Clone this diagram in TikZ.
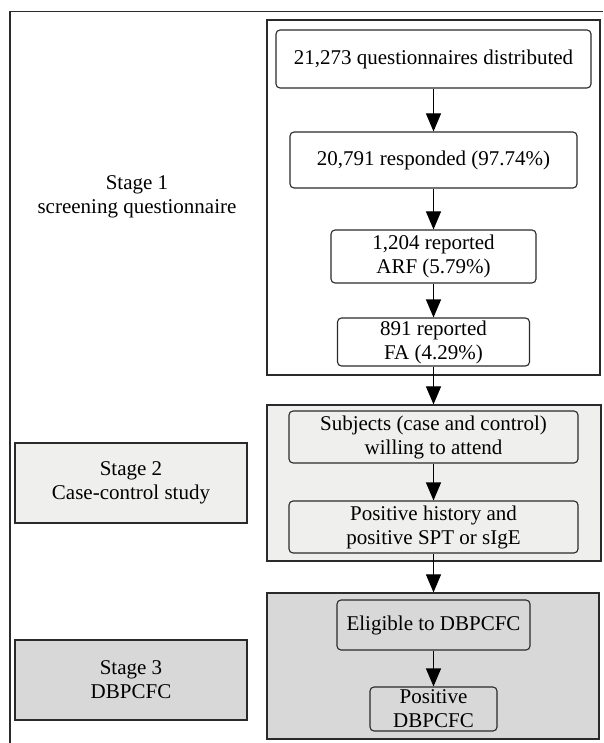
\documentclass[tikz,border=0pt]{standalone}
\usepackage{fontspec}
\setmainfont{Liberation Serif}
\usetikzlibrary{arrows.meta}
\definecolor{lightfill}{HTML}{EFF0EE}
\definecolor{midfill}{HTML}{D8D8D8}
\definecolor{edge}{HTML}{2A2A2A}
\tikzset{
  stagebox/.style={draw=edge, line width=1.2pt, inner sep=0pt},
  flowbox/.style={draw=edge, line width=1.1pt, rounded corners=4pt, inner sep=0pt, align=center,
    font=\fontsize{21}{24}\selectfont},
  labelbox/.style={draw=edge, line width=1.2pt, inner sep=0pt, align=center,
    font=\fontsize{21}{24}\selectfont},
  arr/.style={draw=black, line width=1.1pt, -{Triangle[length=18pt,width=15pt]}},
}
\begin{document}
\begin{tikzpicture}[x=1pt,y=-1pt]
\useasboundingbox (0,0) rectangle (603,743);
% outer frame (only top and left visible)
\coordinate (fbl) at (10,743);
\coordinate (ftl) at (10,11.5);
\coordinate (ftr) at (603,11.5);
\draw[edge, line width=1.6pt] (fbl) -- (ftl) -- (ftr);
% stage containers
\node[stagebox, fill=white, minimum width=333pt, minimum height=355pt] (S1) at (433.5,197.5) {};
\node[stagebox, fill=lightfill, minimum width=334pt, minimum height=156pt] (S2) at (434,483) {};
\node[stagebox, fill=midfill, minimum width=332pt, minimum height=146pt] (S3) at (433,666) {};
% stage labels
\node[align=center, font=\fontsize{21}{24}\selectfont] (L1) at (137,197) {Stage 1\\screening questionnaire};
\node[labelbox, fill=lightfill, minimum width=232pt, minimum height=80pt] (L2) at (131,483) {Stage 2\\Case-control study};
\node[labelbox, fill=midfill, minimum width=232pt, minimum height=80pt] (L3) at (131,680) {Stage 3\\DBPCFC};
% flow boxes
\node[flowbox, fill=white, minimum width=315pt, minimum height=58pt] (A) at (433.5,59) {21,273 questionnaires distributed};
\node[flowbox, fill=white, minimum width=287pt, minimum height=56pt] (B) at (433.5,160) {20,791 responded (97.74\%)};
\node[flowbox, fill=white, minimum width=205pt, minimum height=53pt] (C) at (433.5,256.5) {1,204 reported\\ARF (5.79\%)};
\node[flowbox, fill=white, minimum width=192pt, minimum height=48pt] (D) at (433.5,342) {891 reported\\FA (4.29\%)};
\node[flowbox, fill=lightfill, minimum width=289pt, minimum height=52pt] (E) at (433.5,437) {Subjects (case and control)\\willing to attend};
\node[flowbox, fill=lightfill, minimum width=289pt, minimum height=52pt] (F) at (433.5,527) {Positive history and\\positive SPT or sIgE};
\node[flowbox, fill=midfill, minimum width=193pt, minimum height=50pt] (G) at (433.5,625) {Eligible to DBPCFC};
\node[flowbox, fill=midfill, minimum width=127pt, minimum height=44pt] (H) at (433.5,709) {Positive\\DBPCFC};
% arrows
\draw[arr] (A.south) -- (B.north);
\draw[arr] (B.south) -- (C.north);
\draw[arr] (C.south) -- (D.north);
\draw[arr] (D.south) -- (D.south |- S2.north);
\draw[arr] (E.south) -- (F.north);
\draw[arr] (F.south) -- (F.south |- S3.north);
\draw[arr] (G.south) -- (H.north);
\end{tikzpicture}
\end{document}
